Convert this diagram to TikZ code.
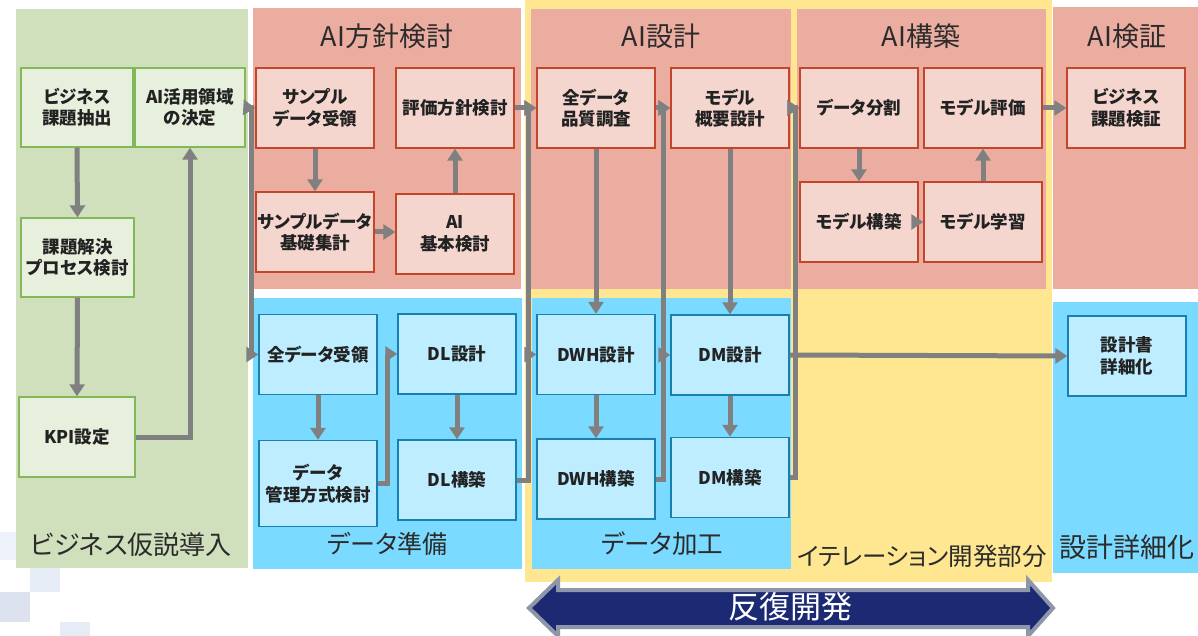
\documentclass[tikz,border=0pt]{standalone}
\usepackage{fontspec}
\setmainfont{Noto Sans CJK JP}[RawFeature=+palt]
\usetikzlibrary{arrows.meta,calc}
\definecolor{gpanel}{HTML}{D0DFBC}
\definecolor{gfill}{HTML}{E7EFDD}
\definecolor{gline}{HTML}{82B85A}
\definecolor{rpanel}{HTML}{EAADA0}
\definecolor{rfill}{HTML}{F5D6CF}
\definecolor{rline}{HTML}{C5452A}
\definecolor{bpanel}{HTML}{7BDAFF}
\definecolor{bfill}{HTML}{BEEDFF}
\definecolor{bline}{HTML}{1780B0}
\definecolor{ypanel}{HTML}{FFE690}
\definecolor{arrowgray}{HTML}{808080}
\definecolor{navy}{HTML}{1B2A73}
\definecolor{navyline}{HTML}{8E96AA}
\definecolor{txt}{HTML}{222222}
\definecolor{titlecol}{HTML}{2B2B2B}
\definecolor{sq1}{HTML}{EEF2FA}
\definecolor{sq2}{HTML}{E6ECF5}
\definecolor{sq3}{HTML}{DCE3EF}
\begin{document}
\begin{tikzpicture}[x=1pt,y=-1pt,
  box/.style={draw, line width=1.4pt, inner sep=0pt, minimum width=118pt, minimum height=80pt,
    align=center, text=txt, font=\fontsize{17.5}{21.5}\selectfont\bfseries},
  gbox/.style={box, fill=gfill, draw=gline},
  rbox/.style={box, fill=rfill, draw=rline},
  bbox/.style={box, fill=bfill, draw=bline},
  title/.style={text=titlecol, font=\fontsize{27}{30}\selectfont, inner sep=0pt},
  arr/.style={draw=arrowgray, line width=5pt, -{Triangle[width=15pt,length=12pt]}},
  bigarrow/.style={fill=navy, draw=navyline, line width=4pt, line join=miter}
]
\useasboundingbox (0,0) rectangle (1198,636);
\fill[white] (0,0) rectangle (1198,636);
% decorative squares
\fill[sq1] (0,532) rectangle (16,560);
\fill[sq2] (30,568) rectangle (60,592);
\fill[sq3] (0,592) rectangle (30,622);
\fill[sq2] (60,622) rectangle (90,636);
% panels
\fill[ypanel] (525,0) rectangle (1052,582);
\fill[gpanel] (16,9) rectangle (248,568);
\fill[rpanel] (253,8) rectangle (521,289);
\fill[bpanel] (253,298) rectangle (522,569);
\fill[rpanel] (531,9) rectangle (791,289);
\fill[rpanel] (797,9) rectangle (1046,289);
\fill[bpanel] (532,298) rectangle (791,569);
\fill[rpanel] (1053,7) rectangle (1198,289);
\fill[bpanel] (1053,302) rectangle (1198,573);
% titles
\node[title] (t1) at (387,36) {AI方針検討};
\node[title] (t2) at (661,36) {AI設計};
\node[title] (t3) at (921,36) {AI構築};
\node[title] (t4) at (1127,36) {AI検証};
\node[title, font=\fontsize{26}{29}\selectfont] (t5) at (131,545) {ビジネス仮説導入};
\node[title, font=\fontsize{25}{28}\selectfont] (t6) at (387.5,544) {データ準備};
\node[title, font=\fontsize{25.5}{28}\selectfont] (t7) at (662,544) {データ加工};
\node[title, font=\fontsize{24.5}{28}\selectfont] (t8) at (922,556) {イテレーション開発部分};
\node[title] (t9) at (1127,547) {設計詳細化};
% green boxes
\node[gbox, minimum width=112pt, minimum height=79pt] (biz) at (77,107.5) {ビジネス\\課題抽出};
\node[gbox, minimum width=110pt, minimum height=79pt] (katsuyo) at (190,107.5) {AI活用領域\\の決定};
\node[gbox, minimum width=113pt, minimum height=79pt] (kadai) at (77.5,257.5) {課題解決\\プロセス検討};
\node[gbox, minimum width=116pt] (kpi) at (77,437) {KPI設定};
% red boxes
\node[rbox] (sample) at (315,108) {サンプル\\データ受領};
\node[rbox] (hyoka) at (455,108) {評価方針検討};
\node[rbox] (kiso) at (315,232) {サンプルデータ\\基礎集計};
\node[rbox] (aikihon) at (455,234) {AI\\基本検討};
\node[rbox] (hinshitsu) at (596,108) {全データ\\品質調査};
\node[rbox] (gaiyo) at (730,108) {モデル\\概要設計};
\node[rbox] (bunkatsu) at (859,108) {データ分割};
\node[rbox] (mhyoka) at (983,108) {モデル評価};
\node[rbox] (mkochiku) at (859,222) {モデル構築};
\node[rbox] (gakushu) at (983,222) {モデル学習};
\node[rbox] (kensho) at (1126,108) {ビジネス\\課題検証};
% blue boxes
\node[bbox] (zen) at (318,354.5) {全データ受領};
\node[bbox, minimum height=86pt] (kanri) at (318,483.5) {データ\\管理方式検討};
\node[bbox] (dls) at (457,354) {DL設計};
\node[bbox] (dlk) at (457,480) {DL構築};
\node[bbox] (dwhs) at (596,354.5) {DWH設計};
\node[bbox] (dwhk) at (596,479) {DWH構築};
\node[bbox] (dms) at (730,355) {DM設計};
\node[bbox] (dmk) at (730,477.5) {DM構築};
\node[bbox] (shosai) at (1127,356) {設計書\\詳細化};
% big arrow
\draw[bigarrow] (529,608) -- (558,580) -- (558,590) -- (1028,590) -- (1028,580) -- (1053,608)
  -- (1028,636) -- (1028,627) -- (558,627) -- (558,636) -- cycle;
\node[text=white, font=\fontsize{31}{34}\selectfont, inner sep=0pt] (hanpuku) at (790,607) {反復開発};
% connectors: business
\draw[arr] (biz.south) -- (kadai.north);
\draw[arr] (kadai.south) -- (kpi.north);
\draw[arr] (kpi.east) -| (katsuyo.south);
\draw[arr] (katsuyo.east) -- (sample.west);
\draw[arr] (katsuyo.east) -- ++(6,0) |- (zen.west);
% AI policy
\draw[arr] (sample.south) -- (kiso.north);
\draw[arr] (kiso.east) -- (kiso.east -| aikihon.west);
\draw[arr] (aikihon.north) -- (hyoka.south);
% data prep
\draw[arr] (zen.south) -- (kanri.north);
\draw[arr] (dls.south) -- (dlk.north);
\draw[arr] (kanri.east) -- ++(10,0) |- (dls.west);
% column x=528
\draw[arr] (hyoka.east) -- (hinshitsu.west);
\draw[arr] (dlk.east) -- ++(12,0) |- (hinshitsu.west);
\draw[arr] (dlk.east) -- ++(12,0) |- (dwhs.west);
% AI design / data processing
\draw[arr] (hinshitsu.south) -- (dwhs.north);
\draw[arr] (gaiyo.south) -- (dms.north);
\draw[arr] (dwhs.south) -- (dwhk.north);
\draw[arr] (dms.south) -- (dmk.north);
% column x=664
\draw[arr] (hinshitsu.east) -- (gaiyo.west);
\draw[arr] (dwhk.east) -- ++(8,0) |- (gaiyo.west);
\draw[arr] (dwhk.east) -- ++(8,0) |- (dms.west);
% column x=795
\draw[arr] (gaiyo.east) -- (bunkatsu.west);
\draw[arr] (dmk.east) -- ++(6,0) |- (bunkatsu.west);
\draw[arr] (dms.east) -- (shosai.west);
% AI build
\draw[arr] (bunkatsu.south) -- (mkochiku.north);
\draw[arr] (mkochiku.east) -- (gakushu.west);
\draw[arr] (gakushu.north) -- (mhyoka.south);
\draw[arr] (mhyoka.east) -- (kensho.west);
\end{tikzpicture}
\end{document}
